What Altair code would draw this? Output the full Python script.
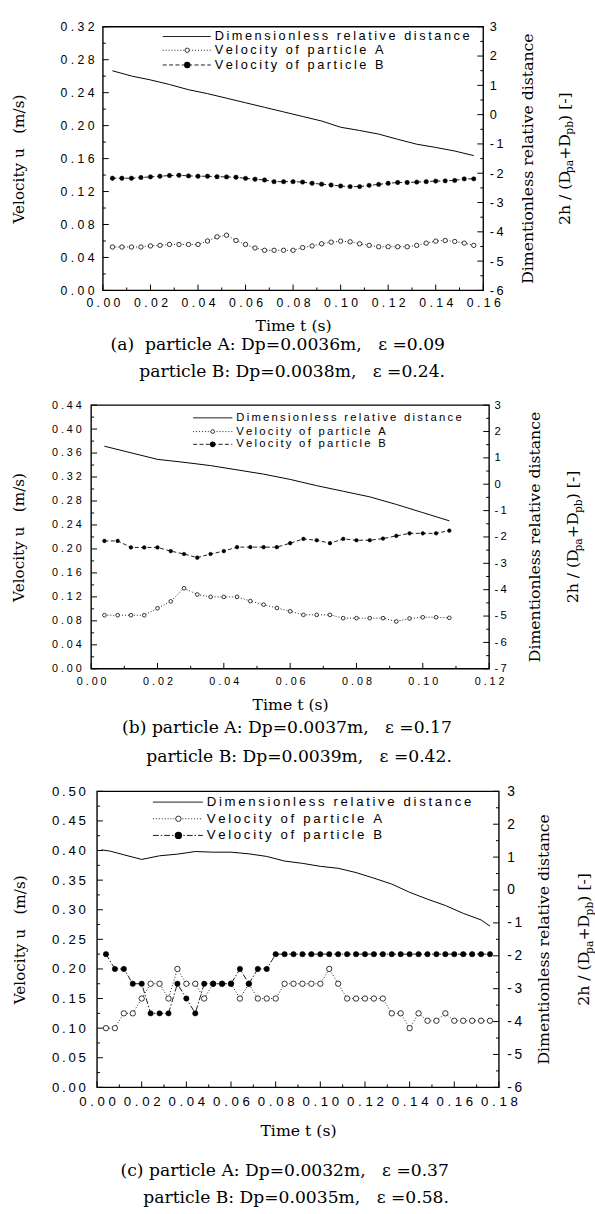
import altair as alt
import pandas as pd

SANS = "Liberation Sans"
SERIF = "DejaVu Serif"
TS = "\u2009"   # thin space
NB = "\u00a0"   # no-break space

# ---------------- panel (a) data ----------------
a_t = [0.004, 0.008, 0.012, 0.016, 0.020, 0.024, 0.028, 0.032, 0.036, 0.040,
       0.044, 0.048, 0.052, 0.056, 0.060, 0.064, 0.068, 0.072, 0.076, 0.080,
       0.084, 0.088, 0.092, 0.096, 0.100, 0.104, 0.108, 0.112, 0.116, 0.120,
       0.124, 0.128, 0.132, 0.136, 0.140, 0.144, 0.148, 0.152, 0.156]
a_vA = [0.0527, 0.0527, 0.0527, 0.0527, 0.0540, 0.0547, 0.0558, 0.0558, 0.0558, 0.0558,
        0.0600, 0.0650, 0.0670, 0.0606, 0.0558, 0.0515, 0.0487, 0.0487, 0.0487, 0.0487,
        0.0520, 0.0540, 0.0566, 0.0586, 0.0598, 0.0590, 0.0566, 0.0547, 0.0530, 0.0530,
        0.0530, 0.0530, 0.0547, 0.0574, 0.0598, 0.0606, 0.0594, 0.0574, 0.0547]
a_vB = [0.1362, 0.1362, 0.1362, 0.1370, 0.1378, 0.1386, 0.1394, 0.1398, 0.1390, 0.1386,
        0.1386, 0.1380, 0.1378, 0.1374, 0.1360, 0.1350, 0.1340, 0.1320, 0.1320, 0.1320,
        0.1315, 0.1300, 0.1290, 0.1280, 0.1267, 0.1260, 0.1260, 0.1275, 0.1287, 0.1300,
        0.1310, 0.1310, 0.1315, 0.1320, 0.1327, 0.1330, 0.1335, 0.1354, 0.1354]
a_td = [0.004, 0.012, 0.020, 0.028, 0.036, 0.044, 0.052, 0.060, 0.068, 0.076,
        0.084, 0.092, 0.100, 0.108, 0.116, 0.124, 0.132, 0.140, 0.148, 0.156]
a_dist = [1.497, 1.318, 1.185, 1.029, 0.851, 0.717, 0.561, 0.405, 0.249, 0.094,
          -0.062, -0.218, -0.430, -0.541, -0.664, -0.842, -1.009, -1.120, -1.242, -1.398]
a_xmajor = [0.00, 0.02, 0.04, 0.06, 0.08, 0.10, 0.12, 0.14, 0.16]
a_xminor = [0.01, 0.03, 0.05, 0.07, 0.09, 0.11, 0.13, 0.15]
a_ymajor = [0.00, 0.04, 0.08, 0.12, 0.16, 0.20, 0.24, 0.28, 0.32]
a_yminor = [0.02, 0.06, 0.10, 0.14, 0.18, 0.22, 0.26, 0.30]
a_rmajor = [-6, -5, -4, -3, -2, -1, 0, 1, 2, 3]
a_rminor = [-5.5, -4.5, -3.5, -2.5, -1.5, -0.5, 0.5, 1.5, 2.5]
a_caption = ["(a)" + NB + NB + "particle A: Dp=0.0036m," + NB + NB + NB + "\u03b5 =0.09",
             "particle B: Dp=0.0038m," + NB + NB + NB + "\u03b5 =0.24."]

# ---------------- panel (b) data ----------------
b_t = [0.004, 0.008, 0.012, 0.016, 0.020, 0.024, 0.028, 0.032, 0.036, 0.040,
       0.044, 0.048, 0.052, 0.056, 0.060, 0.064, 0.068, 0.072, 0.076, 0.080,
       0.084, 0.088, 0.092, 0.096, 0.100, 0.104, 0.108]
b_vA = [0.0894, 0.0894, 0.0894, 0.0894, 0.1010, 0.1125, 0.1344, 0.1240, 0.1200, 0.1200,
        0.1200, 0.1130, 0.1070, 0.1015, 0.0960, 0.0900, 0.0900, 0.0900, 0.0845, 0.0845,
        0.0845, 0.0845, 0.0790, 0.0840, 0.0860, 0.0860, 0.0850]
b_vB = [0.2134, 0.2134, 0.2025, 0.2025, 0.2025, 0.1964, 0.1915, 0.1855, 0.1915, 0.1964,
        0.2030, 0.2030, 0.2030, 0.2030, 0.2096, 0.2167, 0.2145, 0.2096, 0.2167, 0.2145,
        0.2145, 0.2173, 0.2217, 0.2260, 0.2260, 0.2260, 0.2305]
b_td = [0.004, 0.012, 0.020, 0.028, 0.036, 0.044, 0.052, 0.060, 0.068, 0.076,
        0.084, 0.092, 0.100, 0.108]
b_dist = [1.441, 1.192, 0.943, 0.830, 0.706, 0.544, 0.382, 0.182, -0.055, -0.267,
          -0.479, -0.766, -1.077, -1.389]
b_xmajor = [0.00, 0.02, 0.04, 0.06, 0.08, 0.10, 0.12]
b_xminor = [0.01, 0.03, 0.05, 0.07, 0.09, 0.11]
b_ymajor = [0.00, 0.04, 0.08, 0.12, 0.16, 0.20, 0.24, 0.28, 0.32, 0.36, 0.40, 0.44]
b_yminor = [0.02, 0.06, 0.10, 0.14, 0.18, 0.22, 0.26, 0.30, 0.34, 0.38, 0.42]
b_rmajor = [-7, -6, -5, -4, -3, -2, -1, 0, 1, 2, 3]
b_rminor = [-6.5, -5.5, -4.5, -3.5, -2.5, -1.5, -0.5, 0.5, 1.5, 2.5]
b_caption = ["(b) particle A: Dp=0.0037m," + NB + NB + NB + "\u03b5 =0.17",
             "particle B: Dp=0.0039m," + NB + NB + NB + "\u03b5 =0.42."]

# ---------------- panel (c) data ----------------
c_t = [0.004, 0.008, 0.012, 0.016, 0.020, 0.024, 0.028, 0.032, 0.036, 0.040,
       0.044, 0.048, 0.052, 0.056, 0.060, 0.064, 0.068, 0.072, 0.076, 0.080,
       0.084, 0.088, 0.092, 0.096, 0.100, 0.104, 0.108, 0.112, 0.116, 0.120,
       0.124, 0.128, 0.132, 0.136, 0.140, 0.144, 0.148, 0.152, 0.156, 0.160,
       0.164, 0.168, 0.172, 0.176]
c_vA = [0.100, 0.100, 0.125, 0.125, 0.150, 0.175, 0.175, 0.150, 0.200, 0.175,
        0.175, 0.150, 0.175, 0.175, 0.175, 0.150, 0.175, 0.150, 0.150, 0.150,
        0.175, 0.175, 0.175, 0.175, 0.175, 0.200, 0.175, 0.150, 0.150, 0.150,
        0.150, 0.150, 0.125, 0.125, 0.100, 0.125, 0.1125, 0.1125, 0.125, 0.1125,
        0.1125, 0.1125, 0.1125, 0.1125]
c_vB = [0.225, 0.200, 0.200, 0.175, 0.175, 0.125, 0.125, 0.125, 0.175, 0.150,
        0.125, 0.175, 0.175, 0.175, 0.175, 0.200, 0.175, 0.200, 0.200, 0.225,
        0.225, 0.225, 0.225, 0.225, 0.225, 0.225, 0.225, 0.225, 0.225, 0.225,
        0.225, 0.225, 0.225, 0.225, 0.225, 0.225, 0.225, 0.225, 0.225, 0.225,
        0.225, 0.225, 0.225, 0.225]
c_td = [0.002, 0.006, 0.012, 0.020, 0.028, 0.036, 0.044, 0.052, 0.060, 0.068,
        0.076, 0.084, 0.092, 0.100, 0.108, 0.116, 0.124, 0.132, 0.140, 0.148,
        0.156, 0.164, 0.172, 0.176]
c_dist = [1.22, 1.18, 1.07, 0.93, 1.04, 1.09, 1.17, 1.15, 1.15, 1.10,
          1.02, 0.88, 0.81, 0.72, 0.66, 0.53, 0.36, 0.18, -0.07, -0.28,
          -0.47, -0.71, -0.91, -1.10]
c_xmajor = [0.00, 0.02, 0.04, 0.06, 0.08, 0.10, 0.12, 0.14, 0.16, 0.18]
c_xminor = [0.01, 0.03, 0.05, 0.07, 0.09, 0.11, 0.13, 0.15, 0.17]
c_ymajor = [0.00, 0.05, 0.10, 0.15, 0.20, 0.25, 0.30, 0.35, 0.40, 0.45, 0.50]
c_yminor = [0.025, 0.075, 0.125, 0.175, 0.225, 0.275, 0.325, 0.375, 0.425, 0.475]
c_rmajor = [-6, -5, -4, -3, -2, -1, 0, 1, 2, 3]
c_rminor = [-5.5, -4.5, -3.5, -2.5, -1.5, -0.5, 0.5, 1.5, 2.5]
c_caption = ["(c) particle A: Dp=0.0032m," + NB + NB + NB + "\u03b5 =0.37",
             "particle B: Dp=0.0035m," + NB + NB + NB + "\u03b5 =0.58."]

LEG_D = "Dimensionless relative distance"
LEG_A = "Velocity of particle A"
LEG_B = "Velocity of particle B"
Y_TITLE = "Velocity u" + NB + NB + NB + "(m/s)"
R_TITLE = "Dimentionless relative distance"

ONE = pd.DataFrame({"k": [0]})


def spaced(s, sep=TS):
    return sep.join(list(s))


def spaced_expr(fmt, sep):
    return "join(split(format(datum.value, '%s'), ''), '%s')" % (fmt, sep)


def panel(c):
    w, h, off = c["w"], c["h"], c["off"]
    xs = alt.Scale(domain=[0, c["xmax"]], nice=False, zero=False, range=[off, w])
    ys = alt.Scale(domain=[0, c["ymax"]], nice=False, zero=False)
    rs = alt.Scale(domain=[c["rmajor"][0], 3], nice=False, zero=False)
    xaxis = alt.Axis(values=c["xmajor"], labelExpr=spaced_expr(".2f", c["xsep"]),
                     ticks=False, tickSize=0, domain=False, grid=False,
                     labelFont=SANS, labelFontSize=c["xfs"], labelPadding=c["xlp"],
                     labelFlush=False, labelOverlap=False, labelColor="black",
                     title="Time t (s)", titleFont=SERIF, titleFontSize=16,
                     titleFontWeight="normal", titleColor="black", titlePadding=c["xtp"])
    yaxis = alt.Axis(orient="left", values=c["ymajor"], labelExpr=spaced_expr(".2f", c["ysep"]),
                     ticks=False, tickSize=0, domain=False, grid=False, offset=-off,
                     labelFont=SANS, labelFontSize=c["yfs"], labelPadding=c["ylp"],
                     labelOverlap=False, labelColor="black",
                     title=Y_TITLE, titleFont=SERIF, titleFontSize=15.5,
                     titleFontWeight="normal", titleColor="black", titlePadding=c["ytp"])
    raxis = alt.Axis(orient="right", values=c["rmajor"],
                     labelExpr="(datum.value < 0 ? '-%s' : '') + abs(datum.value)" % TS,
                     ticks=False, tickSize=0, domain=False, grid=False,
                     labelFont=SANS, labelFontSize=c["rfs"], labelPadding=c["rlp"],
                     labelOverlap=False, labelColor="black", title=None)

    def X(f):
        return alt.X(f + ":Q", scale=xs, axis=xaxis)

    def Y(f):
        return alt.Y(f + ":Q", scale=ys, axis=yaxis)

    def R(f):
        return alt.Y(f + ":Q", scale=rs, axis=raxis)

    dfA = pd.DataFrame({"t": c["t"], "v": c["vA"]})
    dfB = pd.DataFrame({"t": c["t"], "v": c["vB"]})
    dfD = pd.DataFrame({"t": c["td"], "d": c["dist"]})

    def ticks_x(vals, ln):
        return alt.Chart(pd.DataFrame({"v": vals})).mark_rule(color="black", strokeWidth=1).encode(
            x=X("v"), y=alt.value(h), y2=alt.value(h - ln))

    def ticks_y(vals, ln):
        return alt.Chart(pd.DataFrame({"v": vals})).mark_rule(color="black", strokeWidth=1).encode(
            y=Y("v"), x=alt.value(off), x2=alt.value(off + ln))

    def ticks_r(vals, ln):
        return alt.Chart(pd.DataFrame({"v": vals})).mark_rule(color="black", strokeWidth=1).encode(
            y=R("v"), x=alt.value(w), x2=alt.value(w - ln))

    frame = alt.Chart(ONE).mark_rect(filled=False, stroke="black", strokeWidth=1.4).encode(
        x=alt.value(off), x2=alt.value(w), y=alt.value(0), y2=alt.value(h))

    lineA = alt.Chart(dfA).mark_line(color="black", strokeWidth=0.9, strokeDash=[1, 2]).encode(x=X("t"), y=Y("v"))
    lineB = alt.Chart(dfB).mark_line(color="black", strokeWidth=0.9, strokeDash=c["dashB"]).encode(x=X("t"), y=Y("v"))
    ptsA = alt.Chart(dfA).mark_point(shape="circle", filled=True, fill="white", stroke="black",
                                     strokeWidth=0.8, size=c["msize"], opacity=1).encode(x=X("t"), y=Y("v"))
    ptsB = alt.Chart(dfB).mark_point(shape="circle", filled=True, fill="black", stroke="black",
                                     strokeWidth=0.5, size=c["msize"], opacity=1).encode(x=X("t"), y=Y("v"))
    left = alt.layer(ticks_x(c["xmajor"], 6), ticks_x(c["xminor"], 3),
                     ticks_y(c["ymajor"], 6), ticks_y(c["yminor"], 3),
                     lineA, lineB, ptsA, ptsB)

    dline = alt.Chart(dfD).mark_line(color="black", strokeWidth=1).encode(x=X("t"), y=R("d"))
    right = alt.layer(dline, ticks_r(c["rmajor"], 6), ticks_r(c["rminor"], 3))

    # legend (inside the frame, top right)
    lx1, lx2, lxm, ltx = [v + off for v in c["leg_x"]]
    ly = c["leg_y"]
    lfs = c["leg_fs"]
    leg = []
    rows = [(LEG_D, None, None), (LEG_A, [1, 2], "open"), (LEG_B, c["dashB"], "filled")]
    for (lab, dash, mk), yy in zip(rows, ly):
        rule_kw = dict(color="black", strokeWidth=0.9)
        if dash:
            rule_kw["strokeDash"] = dash
        leg.append(alt.Chart(ONE).mark_rule(**rule_kw).encode(
            x=alt.value(lx1), x2=alt.value(lx2), y=alt.value(yy)))
        if mk == "open":
            leg.append(alt.Chart(ONE).mark_point(shape="circle", filled=True, fill="white", stroke="black",
                                                 strokeWidth=0.8, size=c["msize"], opacity=1).encode(
                x=alt.value(lxm), y=alt.value(yy)))
        elif mk == "filled":
            leg.append(alt.Chart(ONE).mark_point(shape="circle", filled=True, fill="black", stroke="black",
                                                 size=c["msize"], opacity=1).encode(
                x=alt.value(lxm), y=alt.value(yy)))
        leg.append(alt.Chart(ONE).mark_text(align="left", baseline="middle", font=SANS, fontSize=lfs,
                                            color="black").encode(
            x=alt.value(ltx), y=alt.value(yy), text=alt.value(spaced(lab))))

    # right-hand title: two rotated lines
    rt = [alt.Chart(ONE).mark_text(angle=270, align="center", baseline="middle", font=SERIF,
                                   fontSize=16, color="black").encode(
        x=alt.value(w + c["rt1"]), y=alt.value(h / 2), text=alt.value(R_TITLE))]
    fs, sfs = 16, 11
    segs = [("2h / (D", fs, 0, 3.30), ("pa", sfs, 3.5, 1.24),
            ("+D", fs, 0, 1.60), ("pb", sfs, 3.5, 1.28), (") [-]", fs, 0, 1.83)]
    total = sum(s[1] * s[3] for s in segs)
    yy = h / 2 + total / 2
    xb = w + c["rt2"]
    for txt, size, shift, em in segs:
        rt.append(alt.Chart(ONE).mark_text(angle=270, align="left", baseline="alphabetic", font=SERIF,
                                           fontSize=size, color="black").encode(
            x=alt.value(xb + shift), y=alt.value(yy), text=alt.value(txt)))
        yy -= size * em

    ch = alt.layer(left, right, frame, *leg, *rt).resolve_scale(y="independent").properties(
        width=w, height=h,
        title=alt.Title(text=c["caption"], orient="bottom", anchor="end", align="right", frame="group",
                        dx=c["cap_dx"], offset=c["cap_off"], font=SERIF, fontSize=17.5,
                        fontWeight="normal", color="black", lineHeight=c["cap_lh"]))
    return ch


cfg_a = dict(t=a_t, vA=a_vA, vB=a_vB, td=a_td, dist=a_dist, w=400, off=12, h=269, xmax=0.16, ymax=0.32,
             xmajor=a_xmajor, xminor=a_xminor, ymajor=a_ymajor, yminor=a_yminor,
             rmajor=a_rmajor, rminor=a_rminor, xsep=" ", ysep=" ", xfs=12.5, yfs=12.5, rfs=13,
             xlp=6, ylp=9, rlp=6, xtp=9, ytp=34, dashB=[4, 2.5], msize=20,
             leg_x=(61, 110, 86, 114), leg_y=(10, 24, 39), leg_fs=13,
             rt1=46, rt2=88, caption=a_caption, cap_dx=-39, cap_off=3, cap_lh=28)
cfg_b = dict(t=b_t, vA=b_vA, vB=b_vB, td=b_td, dist=b_dist, w=406, off=0, h=269, xmax=0.12, ymax=0.44,
             xmajor=b_xmajor, xminor=b_xminor, ymajor=b_ymajor, yminor=b_yminor,
             rmajor=b_rmajor, rminor=b_rminor, xsep=" ", ysep=" ", xfs=11, yfs=11, rfs=11.5,
             xlp=7, ylp=10, rlp=5, xtp=11, ytp=25, dashB=[4, 2.5], msize=14,
             leg_x=(104, 144, 124, 148), leg_y=(13, 27, 40), leg_fs=11.5,
             rt1=47, rt2=91, caption=b_caption, cap_dx=-38, cap_off=6, cap_lh=30)
cfg_c = dict(t=c_t, vA=c_vA, vB=c_vB, td=c_td, dist=c_dist, w=416, off=6, h=302, xmax=0.18, ymax=0.50,
             xmajor=c_xmajor, xminor=c_xminor, ymajor=c_ymajor, yminor=c_yminor,
             rmajor=c_rmajor, rminor=c_rminor, xsep=" ", ysep=TS, xfs=13.5, yfs=13.5, rfs=14,
             xlp=8, ylp=12, rlp=8, xtp=15, ytp=25, dashB=[6, 2, 1.5, 2], msize=30,
             leg_x=(57, 108, 83, 112), leg_y=(11, 28, 45), leg_fs=13.5,
             rt1=46, rt2=92, caption=c_caption, cap_dx=-51, cap_off=24, cap_lh=27)

chart = alt.VConcatChart(vconcat=[panel(cfg_a), panel(cfg_b), panel(cfg_c)],
                         spacing=19).properties(
    padding={"left": 12, "top": 9, "right": 0, "bottom": 0}, background="white"
).configure_view(strokeOpacity=0)

chart.save("out.html", embed_options={"renderer": "svg", "actions": False})
